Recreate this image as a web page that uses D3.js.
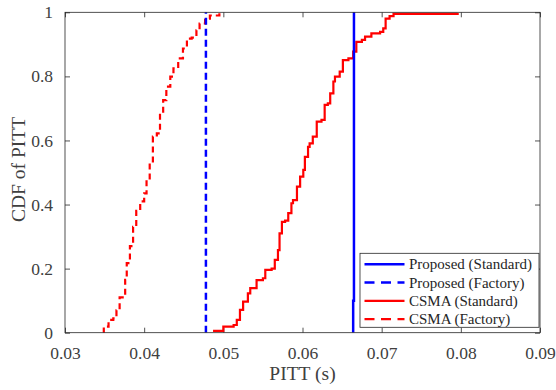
<!DOCTYPE html>
<html>
<head>
<meta charset="utf-8">
<script src="https://cdn.jsdelivr.net/npm/d3@7"></script>
<style>
  html, body { margin: 0; padding: 0; background: #fff; }
  svg { display: block; }
</style>
</head>
<body>
<svg id="chart" width="556" height="390"></svg>
<script>
// ---- data ----
const xTicks = [0.03, 0.04, 0.05, 0.06, 0.07, 0.08, 0.09];
const yTicks = [0, 0.2, 0.4, 0.6, 0.8, 1];
const xTickLabels = ["0.03", "0.04", "0.05", "0.06", "0.07", "0.08", "0.09"];
const yTickLabels = ["0", "0.2", "0.4", "0.6", "0.8", "1"];
const seriesNames = ["Proposed (Standard)", "Proposed (Factory)", "CSMA (Standard)", "CSMA (Factory)"];

// Proposed (Standard): near-vertical CDF
const propStdX = [0.0664, 0.0664, 0.0665, 0.0665];
const propStdY = [0, 0.10, 0.10, 1];
// Proposed (Factory): vertical CDF
const propFacX = [0.0478, 0.0478];
const propFacY = [0, 1];

// CSMA (Standard): empirical CDF (value after each step)
const csmaStdX = [0.0487, 0.0500, 0.0513, 0.0517, 0.0521, 0.0525, 0.0531, 0.0534, 0.0542, 0.0550, 0.0553, 0.0561,
  0.0565, 0.0569, 0.0571, 0.0574, 0.0578, 0.0582, 0.0586, 0.0588, 0.0593, 0.0597, 0.0601, 0.0603, 0.0607, 0.0609,
  0.0613, 0.0618, 0.0624, 0.0628, 0.0632, 0.0635, 0.0639, 0.0641, 0.0647, 0.0651, 0.0658, 0.0664, 0.0668, 0.0675,
  0.0679, 0.0687, 0.0698, 0.0702, 0.0705, 0.0710, 0.0715, 0.0796];
const csmaStdY = [0.006, 0.019, 0.024, 0.040, 0.071, 0.097, 0.123, 0.139, 0.164, 0.170, 0.196, 0.200,
  0.227, 0.258, 0.310, 0.346, 0.350, 0.373, 0.404, 0.414, 0.456, 0.487, 0.508, 0.549, 0.580, 0.591,
  0.612, 0.659, 0.664, 0.711, 0.716, 0.747, 0.784, 0.799, 0.815, 0.851, 0.856, 0.877, 0.908, 0.914,
  0.924, 0.934, 0.939, 0.950, 0.980, 0.988, 0.995, 0.998];

// CSMA (Factory): empirical CDF
const csmaFacX = [0.0348, 0.0349, 0.0355, 0.0361, 0.0365, 0.0369, 0.0376, 0.0378, 0.0382, 0.0386, 0.0390, 0.0395,
  0.0400, 0.0403, 0.0407, 0.0411, 0.0416, 0.0420, 0.0424, 0.0428, 0.0433, 0.0437, 0.0443, 0.0449, 0.0454,
  0.0460, 0.0466, 0.0470, 0.0477, 0.0483, 0.0495];
const csmaFacY = [0.0, 0.019, 0.040, 0.045, 0.070, 0.110, 0.165, 0.217, 0.270, 0.330, 0.380, 0.410,
  0.435, 0.477, 0.529, 0.612, 0.622, 0.685, 0.726, 0.768, 0.799, 0.825, 0.856, 0.887, 0.918,
  0.921, 0.944, 0.965, 0.980, 0.990, 0.997];

// ---- layout ----
const svg = d3.select("#chart");
const L = 65, R = 540, T = 12.3, B = 332.7;
const x = d3.scaleLinear().domain([0.03, 0.09]).range([L, R]);
const y = d3.scaleLinear().domain([0, 1]).range([B, T]);
const axisColor = "#262626";
const textColor = "#404040";
const font = "'Liberation Serif', 'Times New Roman', serif";

const g = svg.append("g");

// clip
svg.append("clipPath").attr("id", "clip").append("rect")
  .attr("x", L).attr("y", T - 2).attr("width", R - L).attr("height", B - T + 2);

// axes with inward ticks
function styleAxis(sel) {
  sel.select(".domain").remove();
  sel.selectAll(".tick line").attr("stroke", axisColor).attr("stroke-width", 0.8);
  sel.selectAll(".tick text").attr("fill", textColor).attr("font-family", font).attr("font-size", 17.5);
}
const tl = 5;
g.append("g").attr("transform", `translate(0,${B})`)
  .call(d3.axisBottom(x).tickValues(xTicks).tickFormat((d, i) => xTickLabels[i]).tickSizeInner(-tl).tickSizeOuter(0).tickPadding(tl + 9))
  .call(styleAxis);
g.append("g").attr("transform", `translate(0,${T})`)
  .call(d3.axisTop(x).tickValues(xTicks).tickFormat("").tickSizeInner(-tl).tickSizeOuter(0))
  .call(styleAxis);
g.append("g").attr("transform", `translate(${L},0)`)
  .call(d3.axisLeft(y).tickValues(yTicks).tickFormat((d, i) => yTickLabels[i]).tickSizeInner(-tl).tickSizeOuter(0).tickPadding(tl + 7))
  .call(styleAxis);
g.append("g").attr("transform", `translate(${R},0)`)
  .call(d3.axisRight(y).tickValues(yTicks).tickFormat("").tickSizeInner(-tl).tickSizeOuter(0))
  .call(styleAxis);

// lines
const plot = svg.append("g").attr("clip-path", "url(#clip)");
const linLine = d3.line().x(d => x(d[0])).y(d => y(d[1]));
const stepLine = d3.line().x(d => x(d[0])).y(d => y(d[1])).curve(d3.curveStepAfter);
const zip = (a, b) => a.map((v, i) => [v, b[i]]);

plot.append("path").datum(zip(csmaFacX, csmaFacY)).attr("d", stepLine)
  .attr("fill", "none").attr("stroke", "#ff0000").attr("stroke-width", 2.2).attr("stroke-dasharray", "6,4");
plot.append("path").datum(zip(csmaStdX, csmaStdY)).attr("d", stepLine)
  .attr("fill", "none").attr("stroke", "#ff0000").attr("stroke-width", 2.2);
plot.append("path").datum(zip(propFacX, propFacY)).attr("d", linLine)
  .attr("fill", "none").attr("stroke", "#0000ff").attr("stroke-width", 2.5).attr("stroke-dasharray", "7,4");
plot.append("path").datum(zip(propStdX, propStdY)).attr("d", linLine)
  .attr("fill", "none").attr("stroke", "#0000ff").attr("stroke-width", 2.5);

// box
svg.append("rect").attr("x", L).attr("y", T).attr("width", R - L).attr("height", B - T)
  .attr("fill", "none").attr("stroke", axisColor).attr("stroke-width", 0.8);

// axis labels
svg.append("text").attr("x", (L + R) / 2).attr("y", 380).attr("text-anchor", "middle")
  .attr("font-family", font).attr("font-size", 19.5).attr("fill", textColor).text("PITT (s)");
svg.append("text").attr("transform", `translate(25,${(T + B) / 2 - 3}) rotate(-90)`).attr("text-anchor", "middle")
  .attr("font-family", font).attr("font-size", 19.5).attr("fill", textColor).text("CDF of PITT");

// legend
const lg = svg.append("g").attr("transform", "translate(360,253.3)");
lg.append("rect").attr("width", 179).attr("height", 74).attr("fill", "#fff")
  .attr("stroke", axisColor).attr("stroke-width", 0.8);
const legStyles = [
  { c: "#0000ff", d: null, w: 2.5 },
  { c: "#0000ff", d: "10,6.5", w: 2.5 },
  { c: "#ff0000", d: null, w: 2.2 },
  { c: "#ff0000", d: "10,6.5", w: 2.2 }
];
seriesNames.forEach((name, i) => {
  const yy = 11 + i * 18.3;
  lg.append("line").attr("x1", 4.5).attr("x2", 44.5).attr("y1", yy).attr("y2", yy)
    .attr("stroke", legStyles[i].c).attr("stroke-width", legStyles[i].w)
    .attr("stroke-dasharray", legStyles[i].d);
  lg.append("text").attr("x", 49).attr("y", yy + 5).attr("font-family", font).attr("font-size", 15)
    .attr("fill", "#262626").text(name);
});
</script>
</body>
</html>
